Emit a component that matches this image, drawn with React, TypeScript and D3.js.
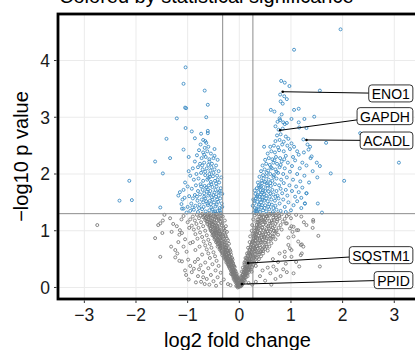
// Volcano plot: log2 fold change vs -log10 p, coloured by significance.
import { useEffect, useRef } from "react";
import * as d3 from "d3";

type Pt = [number, number];

// significant, down-regulated side
const sigLeft: Pt[] = [
  [-1.04,3.88],[-1.08,3.59],[-0.67,3.47],[-0.61,3.22],[-1.05,3.17],[-1.03,3.16],[-1.21,2.98],[-0.64,3.0],
  [-1.04,2.81],[-0.92,2.75],[-1.41,2.62],[-0.86,2.63],[-0.74,2.71],[-0.61,2.76],[-0.61,2.72],[-0.66,2.58],
  [-1.08,2.43],[-1.34,2.28],[-1.63,2.22],[-0.98,2.3],[-1.48,2.01],[-1.53,1.41],[-1.08,1.39],[-1.11,1.39],
  [-2.32,1.53],[-2.08,1.54],[-2.13,1.88],
  [-0.36,1.32],[-0.42,1.35],[-0.5,1.33],[-0.58,1.36],[-0.65,1.34],[-0.72,1.38],[-0.8,1.33],[-0.88,1.37],
  [-0.95,1.35],[-1.02,1.32],[-0.38,1.4],[-0.46,1.43],[-0.54,1.41],[-0.61,1.45],[-0.69,1.42],[-0.77,1.46],
  [-0.85,1.44],[-0.93,1.48],[-1.0,1.42],[-1.12,1.47],[-0.34,1.48],[-0.41,1.51],[-0.49,1.5],[-0.57,1.53],
  [-0.64,1.52],[-0.73,1.55],[-0.81,1.53],[-0.9,1.57],[-0.37,1.57],[-0.45,1.6],[-0.53,1.59],[-0.6,1.62],
  [-0.68,1.6],[-0.76,1.64],[-0.86,1.63],[-0.97,1.61],[-1.06,1.58],[-0.33,1.65],[-0.4,1.68],[-0.48,1.67],
  [-0.56,1.7],[-0.63,1.69],[-0.71,1.72],[-0.8,1.7],[-0.92,1.74],[-0.36,1.75],[-0.44,1.78],[-0.52,1.77],
  [-0.59,1.8],[-0.67,1.79],[-0.75,1.82],[-0.84,1.8],[-1.0,1.78],[-0.39,1.85],[-0.47,1.88],[-0.55,1.86],
  [-0.62,1.9],[-0.7,1.88],[-0.79,1.92],[-0.88,1.9],[-0.35,1.94],[-0.43,1.97],[-0.51,1.96],[-0.58,2.0],
  [-0.66,1.98],[-0.74,2.02],[-0.83,2.0],[-0.95,1.97],[-0.4,2.05],[-0.48,2.08],[-0.56,2.06],[-0.63,2.1],
  [-0.71,2.08],[-0.8,2.12],[-0.9,2.1],[-0.45,2.15],[-0.53,2.18],[-0.6,2.16],[-0.68,2.2],[-0.76,2.18],
  [-0.86,2.22],[-0.42,2.25],[-0.5,2.28],[-0.58,2.26],[-0.65,2.3],[-0.73,2.28],[-0.82,2.33],[-0.55,2.36],
  [-0.62,2.4],[-0.7,2.38],[-0.78,2.42],[-0.48,2.44],[-0.6,2.48],[-0.67,2.46],[-0.75,2.52],[-0.64,2.55],
  [-0.7,2.6],[-1.1,1.55],[-1.15,1.68],[-1.05,1.85],[-1.18,1.62],[-0.98,2.05],[-1.08,1.72],[-0.52,1.38],
  [-0.44,1.46],[-0.62,1.48],[-0.7,1.5],[-0.4,1.62],[-0.58,1.65],[-0.46,1.72],[-0.64,1.76],[-0.54,1.82],
  [-0.42,1.9],[-0.6,1.93],[-0.5,2.02],[-0.66,2.04],[-0.54,2.12],[-0.72,2.15],[-0.58,2.22],[-0.48,2.32],
  [-0.68,2.34],[-0.38,1.36],[-0.33,1.42],
  [-0.47,1.34],[-0.55,1.47],[-0.43,1.55],[-0.66,1.57],[-0.5,1.63],[-0.38,1.7],[-0.61,1.73],[-0.45,1.83],
  [-0.57,1.95],[-0.68,1.66],[-0.74,1.78],[-0.82,1.6],[-0.78,1.4],[-0.91,1.41],[-0.52,1.55],
];

// significant, up-regulated side
const sigRight: Pt[] = [
  [1.96,4.55],[1.06,4.19],[0.81,3.64],[0.88,3.61],[0.97,3.55],[1.56,3.47],[0.79,3.4],[0.87,3.37],
  [0.92,3.32],[0.8,3.28],[0.84,3.24],[0.61,3.13],[0.68,3.1],[0.82,3.05],[1.06,3.13],[1.15,3.15],
  [0.79,2.95],[0.74,2.92],[0.85,2.91],[0.92,2.9],[1.01,2.97],[1.26,2.97],[1.45,3.01],[1.15,2.91],
  [1.16,2.82],[1.3,2.81],[1.24,2.61],[1.68,2.55],[2.34,2.72],[3.09,2.2],[0.48,2.48],[1.01,2.54],
  [1.37,2.48],[1.34,2.43],[1.4,2.31],[1.5,2.2],[1.56,2.14],[1.77,2.01],[2.03,1.88],[1.51,1.94],
  [1.52,1.48],[1.6,1.32],[1.3,1.66],[1.27,1.48],
  [0.28,1.32],[0.34,1.35],[0.4,1.33],[0.46,1.36],[0.52,1.34],[0.58,1.38],[0.65,1.33],[0.72,1.37],
  [0.8,1.35],[0.9,1.33],[1.0,1.36],[0.3,1.4],[0.37,1.43],[0.43,1.41],[0.5,1.45],[0.56,1.42],
  [0.63,1.46],[0.7,1.44],[0.78,1.48],[0.88,1.42],[1.05,1.45],[0.29,1.48],[0.35,1.51],[0.42,1.5],
  [0.48,1.53],[0.55,1.52],[0.62,1.55],[0.69,1.53],[0.76,1.57],[0.85,1.55],[0.95,1.5],[1.12,1.52],
  [0.32,1.57],[0.39,1.6],[0.45,1.59],[0.52,1.62],[0.59,1.6],[0.66,1.64],[0.74,1.62],[0.83,1.66],
  [0.93,1.62],[1.08,1.6],[1.2,1.58],[0.31,1.65],[0.37,1.68],[0.44,1.67],[0.5,1.7],[0.57,1.69],
  [0.64,1.72],[0.72,1.7],[0.8,1.74],[0.9,1.72],[1.02,1.7],[1.15,1.68],[0.34,1.75],[0.41,1.78],
  [0.47,1.77],[0.54,1.8],[0.61,1.79],[0.69,1.82],[0.77,1.8],[0.86,1.84],[0.97,1.8],[1.1,1.78],
  [1.22,1.76],[0.36,1.85],[0.43,1.88],[0.5,1.86],[0.57,1.9],[0.64,1.88],[0.72,1.92],[0.81,1.9],
  [0.92,1.94],[1.04,1.9],[1.18,1.87],[0.39,1.95],[0.46,1.98],[0.53,1.96],[0.6,2.0],[0.67,1.98],
  [0.75,2.02],[0.85,2.0],[0.98,2.04],[1.12,2.0],[1.26,1.97],[0.42,2.05],[0.49,2.08],[0.56,2.06],
  [0.63,2.1],[0.7,2.08],[0.78,2.12],[0.88,2.1],[1.02,2.14],[1.17,2.1],[0.45,2.15],[0.52,2.18],
  [0.59,2.16],[0.66,2.2],[0.73,2.18],[0.82,2.22],[0.94,2.2],[1.08,2.24],[1.22,2.2],[0.5,2.25],
  [0.57,2.28],[0.64,2.26],[0.71,2.3],[0.79,2.28],[0.9,2.32],[1.04,2.3],[1.15,2.34],[0.55,2.36],
  [0.62,2.4],[0.69,2.38],[0.77,2.42],[0.86,2.4],[0.98,2.44],[1.12,2.4],[0.6,2.48],[0.67,2.5],
  [0.75,2.47],[0.83,2.52],[0.93,2.5],[1.06,2.48],[0.7,2.58],[0.78,2.6],[0.86,2.57],[0.95,2.62],
  [0.73,2.68],[0.8,2.7],[0.9,2.66],[0.76,2.78],[0.84,2.8],[0.7,2.84],[0.88,2.88],[0.78,2.98],
  [0.33,1.38],[0.38,1.46],[0.45,1.55],[0.35,1.62],[0.48,1.64],[0.41,1.72],[0.55,1.75],[0.38,1.8],
  [0.6,1.84],[0.47,1.92],[0.66,1.95],[0.53,2.02],[0.72,2.04],[0.61,2.12],[0.8,2.16],[0.68,2.24],
  [0.87,2.26],[1.3,1.66],[1.27,1.48],[1.35,1.85],[1.42,2.05],[1.3,2.15],[1.38,2.28],[1.25,2.38],
  [1.32,2.52],[1.2,1.4],[0.26,1.44],[0.27,1.55],
  [0.31,1.34],[0.37,1.37],[0.44,1.45],[0.29,1.53],[0.4,1.55],[0.34,1.6],[0.42,1.64],[0.3,1.71],
  [0.46,1.71],[0.39,1.76],[0.52,1.57],[0.58,1.47],[0.6,1.66],[0.53,1.84],[0.44,1.84],[0.49,1.4],
  [0.66,1.4],[0.7,1.6],
];

// not significant, negative fold change
const nsLeft: Pt[] = [
  [-0.02,0.02],[-0.04,0.05],[-0.01,0.08],[-0.06,0.03],[-0.03,0.11],[-0.07,0.09],[-0.05,0.14],[-0.09,0.12],
  [-0.02,0.16],[-0.08,0.18],[-0.11,0.15],[-0.06,0.21],[-0.12,0.22],[-0.09,0.25],[-0.14,0.27],[-0.07,0.28],
  [-0.16,0.24],[-0.11,0.31],[-0.18,0.33],[-0.13,0.35],[-0.09,0.36],[-0.2,0.37],[-0.15,0.4],[-0.22,0.41],
  [-0.12,0.43],[-0.18,0.45],[-0.25,0.44],[-0.16,0.48],[-0.21,0.5],[-0.27,0.49],[-0.14,0.52],[-0.24,0.54],
  [-0.3,0.53],[-0.19,0.56],[-0.26,0.58],[-0.33,0.57],[-0.22,0.61],[-0.29,0.62],[-0.17,0.63],[-0.35,0.64],
  [-0.25,0.66],[-0.31,0.68],[-0.38,0.67],[-0.2,0.69],[-0.28,0.71],[-0.36,0.73],[-0.24,0.74],[-0.42,0.72],
  [-0.32,0.76],[-0.39,0.78],[-0.27,0.79],[-0.45,0.8],[-0.34,0.82],[-0.22,0.83],[-0.41,0.84],[-0.3,0.86],
  [-0.48,0.85],[-0.37,0.88],[-0.26,0.9],[-0.44,0.91],[-0.33,0.93],[-0.52,0.92],[-0.4,0.95],[-0.29,0.97],
  [-0.47,0.98],[-0.36,0.99],[-0.55,1.0],[-0.43,1.02],[-0.31,1.03],[-0.5,1.05],[-0.38,1.06],[-0.58,1.07],
  [-0.46,1.09],[-0.34,1.1],[-0.53,1.11],[-0.41,1.13],[-0.62,1.12],[-0.49,1.15],[-0.37,1.16],[-0.56,1.18],
  [-0.44,1.19],[-0.66,1.19],[-0.52,1.21],[-0.4,1.22],[-0.6,1.24],[-0.47,1.25],[-0.7,1.24],[-0.35,1.27],
  [-0.55,1.28],[-0.64,1.29],[-0.43,1.29],[-0.75,1.27],[-0.5,1.3],[-0.32,1.25],[-0.28,1.18],[-0.26,1.08],
  [-0.24,0.98],[-0.01,0.01],[0.0,0.03],[-0.03,0.0],[-0.05,0.07],[-0.1,0.19],[-0.04,0.19],[-0.13,0.29],
  [-0.19,0.42],[-0.23,0.47],[-0.28,0.6],[-0.33,0.7],[-0.35,0.78],[-0.4,0.89],[-0.45,0.96],[-0.48,1.08],
  [-0.58,1.15],[-0.6,1.2],[-0.68,1.26],
  [-0.82,1.28],[-0.9,1.25],[-0.78,1.22],[-0.86,1.18],[-0.95,1.2],[-0.74,1.15],[-0.83,1.12],[-0.92,1.09],
  [-0.7,1.08],[-0.79,1.05],[-0.88,1.02],[-0.66,1.0],[-0.76,0.97],[-0.85,0.94],[-0.63,0.92],[-0.72,0.89],
  [-0.81,0.86],[-0.6,0.84],[-0.69,0.81],[-0.9,0.8],[-0.57,0.77],[-0.66,0.74],[-0.77,0.72],[-0.54,0.7],
  [-0.63,0.67],[-0.85,0.66],[-0.5,0.62],[-0.6,0.6],[-0.72,0.58],[-0.47,0.55],[-0.57,0.52],[-0.8,0.5],
  [-0.44,0.47],[-0.66,0.44],[-0.52,0.41],[-0.75,0.39],[-0.4,0.38],[-0.6,0.34],[-0.88,0.33],[-0.46,0.3],
  [-0.7,0.27],[-0.36,0.26],[-0.55,0.22],[-0.8,0.2],[-0.42,0.18],[-0.63,0.15],[-0.3,0.14],[-0.5,0.11],
  [-0.74,0.1],[-0.35,0.08],[-0.22,0.06],[-0.58,0.05],[-0.45,0.03],[-0.17,0.04],
  [-1.45,1.28],[-1.53,1.13],[-1.48,1.18],[-1.57,1.1],[-1.34,1.22],[-1.28,1.12],[-1.21,1.08],[-1.63,0.87],
  [-1.49,0.96],[-1.31,0.98],[-1.15,1.01],[-1.16,0.93],[-1.11,0.96],[-1.32,0.72],[-1.24,0.66],[-1.2,0.6],
  [-1.53,0.54],[-1.08,0.72],[-1.02,0.63],[-0.99,0.49],[-1.24,0.53],[-1.16,0.47],[-1.11,0.46],[-1.05,0.3],
  [-1.03,0.22],[-0.95,0.38],[-0.86,0.45],[-0.92,0.27],[-0.78,0.32],[-0.98,0.14],[-0.84,0.09],[-0.7,0.18],
  [-0.67,0.06],[-1.08,1.26],[-1.0,1.15],[-1.12,1.2],[-0.97,1.05],[-1.05,0.85],[-0.95,0.78],[-1.18,0.8],
  [-2.75,1.1],
];

// the dense left arm of the V
const coreLeft: Pt[] = [
  [-0.02,0.06],[-0.05,0.1],[-0.08,0.15],[-0.1,0.22],[-0.13,0.25],[-0.15,0.31],[-0.17,0.36],[-0.2,0.4],
  [-0.22,0.45],[-0.24,0.5],[-0.27,0.55],[-0.29,0.58],[-0.31,0.63],[-0.34,0.66],[-0.36,0.7],[-0.38,0.75],
  [-0.41,0.79],[-0.43,0.83],[-0.46,0.87],[-0.49,0.9],[-0.5,0.95],[-0.53,0.98],[-0.56,1.03],[-0.58,1.1],
  [-0.63,1.16],[-0.65,1.22],[-0.57,1.26],[-0.45,1.23],[-0.39,1.19],[-0.42,1.07],[-0.39,1.0],[-0.35,0.95],
  [-0.31,0.9],[-0.29,0.8],[-0.25,0.72],[-0.23,0.64],[-0.2,0.59],[-0.17,0.52],[-0.14,0.45],[-0.12,0.38],
  [-0.1,0.3],[-0.07,0.24],[-0.04,0.15],[-0.02,0.12],[-0.03,0.04],[-0.06,0.16],[-0.11,0.27],[-0.16,0.39],
  [-0.21,0.47],[-0.26,0.52],[-0.3,0.66],[-0.35,0.74],[-0.4,0.82],[-0.44,0.94],[-0.47,1.01],[-0.52,1.07],
  [-0.54,1.14],[-0.61,1.28],[-0.72,1.3],[-0.37,1.3],
  [-0.01,0.04],[-0.04,0.02],[-0.03,0.09],[-0.06,0.12],[-0.01,0.13],[-0.04,0.18],[-0.09,0.17],[-0.07,0.2],
  [-0.12,0.19],[-0.05,0.24],[-0.1,0.26],[-0.14,0.23],[-0.08,0.3],[-0.12,0.32],[-0.16,0.29],[-0.1,0.38],
  [-0.14,0.36],[-0.19,0.35],[-0.13,0.41],[-0.17,0.43],[-0.21,0.39],[-0.15,0.46],[-0.19,0.48],[-0.24,0.46],
  [-0.17,0.5],[-0.22,0.52],[-0.27,0.51],[-0.19,0.55],[-0.24,0.57],[-0.29,0.55],[-0.21,0.6],[-0.26,0.62],
  [-0.32,0.6],[-0.23,0.66],[-0.28,0.67],[-0.34,0.62],[-0.26,0.7],[-0.31,0.72],[-0.37,0.69],[-0.28,0.75],
  [-0.33,0.78],[-0.39,0.73],[-0.3,0.81],[-0.36,0.83],[-0.42,0.77],[-0.32,0.85],[-0.38,0.87],[-0.44,0.82],
  [-0.35,0.9],[-0.41,0.91],[-0.47,0.88],[-0.37,0.94],[-0.43,0.97],[-0.5,0.93],[-0.39,0.99],[-0.46,1.0],
  [-0.52,0.97],[-0.41,1.04],[-0.48,1.05],[-0.55,1.04],[-0.44,1.1],[-0.51,1.12],[-0.57,1.09],[-0.46,1.14],
  [-0.53,1.17],[-0.61,1.16],[-0.48,1.2],[-0.55,1.23],[-0.63,1.21],[-0.5,1.26],[-0.58,1.3],[-0.67,1.28],
  [-0.45,1.3],[-0.42,1.25],[-0.36,1.21],[-0.33,1.13],[-0.3,1.05],[-0.28,1.0],[-0.27,0.92],[-0.24,0.86],
  [-0.2,0.77],[-0.18,0.66],[-0.16,0.58],[-0.13,0.49],
];

// not significant, positive fold change
const nsRight: Pt[] = [
  [0.01,0.02],[0.03,0.05],[0.02,0.09],[0.05,0.04],[0.06,0.1],[0.04,0.13],[0.08,0.15],[0.03,0.17],
  [0.09,0.2],[0.06,0.22],[0.12,0.24],[0.08,0.27],[0.14,0.3],[0.1,0.32],[0.17,0.33],[0.07,0.35],
  [0.13,0.37],[0.2,0.38],[0.1,0.41],[0.16,0.43],[0.23,0.44],[0.12,0.47],[0.19,0.49],[0.27,0.48],
  [0.14,0.52],[0.22,0.54],[0.31,0.53],[0.16,0.57],[0.25,0.59],[0.35,0.58],[0.18,0.62],[0.28,0.63],
  [0.4,0.62],[0.2,0.67],[0.31,0.68],[0.44,0.67],[0.22,0.72],[0.34,0.73],[0.48,0.71],[0.24,0.77],
  [0.37,0.78],[0.52,0.76],[0.26,0.82],[0.4,0.83],[0.56,0.81],[0.28,0.87],[0.43,0.88],[0.6,0.86],
  [0.3,0.92],[0.46,0.93],[0.64,0.9],[0.32,0.97],[0.5,0.98],[0.68,0.95],[0.34,1.02],[0.53,1.03],
  [0.72,1.0],[0.36,1.07],[0.56,1.08],[0.76,1.05],[0.38,1.12],[0.6,1.13],[0.8,1.1],[0.4,1.17],
  [0.63,1.18],[0.84,1.16],[0.42,1.22],[0.66,1.23],[0.88,1.21],[0.3,1.27],[0.5,1.28],[0.7,1.27],
  [0.92,1.26],[0.27,1.2],[0.25,1.1],[0.24,1.0],[0.21,0.9],[0.2,0.8],[0.17,0.7],[0.15,0.6],
  [0.12,0.52],[0.1,0.44],[0.05,0.28],[0.04,0.2],[0.11,0.12],[0.16,0.2],[0.22,0.31],[0.27,0.4],
  [0.33,0.45],[0.38,0.5],[0.42,0.55],[0.46,0.6],[0.3,0.7],[0.55,0.65],[0.58,0.72],[0.45,0.8],
  [0.62,0.78],[0.35,0.88],[0.55,0.9],[0.7,0.85],[0.4,0.96],[0.6,0.98],[0.75,0.93],[0.45,1.05],
  [0.65,1.05],[0.82,1.02],[0.5,1.15],[0.7,1.12],[0.9,1.13],[0.35,1.2],[0.55,1.22],[0.78,1.22],
  [0.45,1.28],[0.62,1.3],[0.82,1.29],[0.38,1.29],[0.33,1.15],[0.29,1.05],[0.26,0.95],[0.48,0.88],
  [0.52,0.83],[0.36,0.62],[0.4,0.7],[0.28,0.55],[0.2,0.45],[0.32,0.38],[0.24,0.28],[0.18,0.26],
  [0.13,0.18],[0.07,0.07],
  [1.43,1.19],[1.53,0.91],[1.42,1.05],[1.14,0.81],[1.21,0.76],[1.24,0.72],[1.16,0.37],[1.56,0.37],
  [1.19,0.57],[0.98,1.04],[1.05,1.07],[1.11,1.01],[1.03,0.98],[0.95,0.75],[0.98,0.69],[0.88,0.63],
  [1.01,0.54],[0.92,1.13],[1.01,1.08],[1.14,1.01],[1.43,1.16],[1.19,0.75],[1.21,0.6],[1.01,0.66],
  [0.88,0.54],[0.85,0.32],[0.72,0.31],[0.66,0.37],[0.75,0.45],[0.8,0.2],[0.6,0.25],[0.7,0.15],
  [0.5,0.12],[0.55,0.35],[0.9,0.42],[1.05,0.25],[0.4,0.2],[0.32,0.1],[0.45,0.3],[0.65,0.5],
  [0.78,0.6],[0.95,0.88],[1.05,0.9],[1.25,1.15],[1.2,1.25],[1.0,1.22],[1.1,1.28],[0.96,1.29],
  [1.3,1.1],[1.1,0.45],[0.92,0.27],[0.62,0.05],[0.25,0.05],[0.18,0.08],
];

// the dense right arm of the V
const coreRight: Pt[] = [
  [0.02,0.04],[0.04,0.08],[0.06,0.14],[0.08,0.19],[0.1,0.24],[0.11,0.29],[0.13,0.33],[0.15,0.38],
  [0.17,0.42],[0.18,0.47],[0.2,0.52],[0.22,0.58],[0.23,0.63],[0.25,0.68],[0.27,0.74],[0.28,0.79],
  [0.3,0.83],[0.32,0.89],[0.33,0.94],[0.35,0.99],[0.37,1.04],[0.39,1.09],[0.41,1.14],[0.43,1.19],
  [0.47,1.24],[0.53,1.26],[0.58,1.27],[0.65,1.28],[0.48,1.18],[0.52,1.1],[0.47,1.0],[0.43,0.92],
  [0.39,0.86],[0.35,0.79],[0.32,0.72],[0.3,0.64],[0.26,0.57],[0.24,0.5],[0.21,0.42],[0.18,0.35],
  [0.15,0.28],[0.12,0.21],[0.09,0.13],[0.05,0.11],[0.14,0.24],[0.19,0.32],[0.25,0.36],[0.29,0.44],
  [0.34,0.52],[0.38,0.58],[0.42,0.64],[0.45,0.73],[0.5,0.79],[0.53,0.87],[0.57,0.95],[0.62,1.02],
  [0.68,1.08],[0.73,1.16],[0.75,1.3],[0.58,1.17],
  [0.01,0.05],[0.03,0.02],[0.03,0.1],[0.06,0.07],[0.05,0.16],[0.08,0.12],[0.07,0.22],[0.1,0.18],
  [0.09,0.27],[0.12,0.27],[0.15,0.25],[0.11,0.34],[0.14,0.35],[0.18,0.31],[0.12,0.4],[0.16,0.39],
  [0.2,0.35],[0.14,0.45],[0.18,0.44],[0.22,0.41],[0.15,0.5],[0.2,0.5],[0.25,0.46],[0.17,0.55],
  [0.22,0.56],[0.28,0.52],[0.19,0.6],[0.24,0.61],[0.3,0.58],[0.2,0.65],[0.26,0.66],[0.33,0.64],
  [0.22,0.7],[0.28,0.7],[0.36,0.69],[0.23,0.75],[0.3,0.77],[0.39,0.74],[0.25,0.8],[0.32,0.82],
  [0.42,0.8],[0.27,0.85],[0.35,0.86],[0.45,0.84],[0.28,0.9],[0.37,0.91],[0.48,0.9],[0.3,0.95],
  [0.39,0.96],[0.51,0.94],[0.31,1.0],[0.41,1.01],[0.54,0.99],[0.33,1.05],[0.44,1.06],[0.57,1.04],
  [0.34,1.1],[0.46,1.11],[0.6,1.09],[0.36,1.15],[0.48,1.16],[0.63,1.14],[0.37,1.2],[0.5,1.21],
  [0.67,1.19],[0.39,1.25],[0.53,1.25],[0.71,1.23],[0.33,1.3],[0.42,1.28],[0.57,1.3],[0.68,1.3],
  [0.77,1.26],[0.74,1.2],[0.7,0.98],[0.66,0.9],[0.62,0.85],[0.6,0.92],[0.67,1.0],[0.53,0.72],
  [0.5,0.68],[0.46,0.64],
];

// labelled genes
const labelGenes = ["ENO1", "GAPDH", "ACADL", "SQSTM1", "PPID"];
const labelFC = [0.84, 0.79, 1.3, 0.17, 0.05];
const labelP = [3.45, 2.77, 2.6, 0.43, 0.06];
// where the repelled boxes ended up (data units)
const boxRight = 3.36;
const boxP = [3.42, 3.02, 2.59, 0.57, 0.13];

const xTicks = [-3, -2, -1, 0, 1, 2, 3];
const yTicks = [0, 1, 2, 3, 4];
const pCut = -Math.log10(0.05);
const fcCuts = [Math.log2(0.8), Math.log2(1.2)];

const FONT = "'Liberation Sans', Arial, Helvetica, sans-serif";
const BLUE = "#3d8cc4";
const GREY = "#7a7a7a";

export default function App() {
  const svgRef = useRef<SVGSVGElement | null>(null);

  useEffect(() => {
    const svg = d3.select(svgRef.current);
    svg.selectAll("*").remove();

    const W = 415;
    const H = 350;
    const left = 58, right = 417, top = 14, bottom = 299;

    svg.attr("width", W).attr("height", H).attr("viewBox", `0 0 ${W} ${H}`);

    const x = d3.scaleLinear().domain([-3.51, 3.44]).range([left, right]);
    const y = d3.scaleLinear().domain([-0.203, 4.82]).range([bottom, top]);

    svg.append("rect").attr("width", W).attr("height", H).attr("fill", "#fff");

    // title (cut off at the top of the frame, as in the source)
    svg.append("text")
      .attr("x", 59).attr("y", 3)
      .attr("font-family", FONT).attr("font-size", 20).attr("fill", "#000")
      .text("Colored by statistical significance");

    // grid
    const grid = svg.append("g").attr("stroke", "#ebebeb").attr("stroke-width", 1);
    grid.selectAll("line.v").data(xTicks).join("line")
      .attr("x1", (d) => x(d)).attr("x2", (d) => x(d))
      .attr("y1", top).attr("y2", bottom);
    grid.selectAll("line.h").data(yTicks).join("line")
      .attr("y1", (d) => y(d)).attr("y2", (d) => y(d))
      .attr("x1", left).attr("x2", right);

    // points
    const all = [...nsLeft, ...coreLeft, ...nsRight, ...coreRight, ...sigLeft, ...sigRight];
    svg.append("g")
      .selectAll("circle")
      .data(all)
      .join("circle")
      .attr("cx", (d) => x(d[0]))
      .attr("cy", (d) => y(d[1]))
      .attr("r", 1.5)
      .attr("fill", "none")
      .attr("stroke", (d) => (d[1] > pCut ? BLUE : GREY))
      .attr("stroke-width", 0.9);

    // thresholds
    const ref = svg.append("g").attr("stroke", "#8c8c8c").attr("stroke-width", 1);
    ref.append("line")
      .attr("x1", left).attr("x2", right)
      .attr("y1", y(pCut)).attr("y2", y(pCut));
    ref.selectAll("line.fc").data(fcCuts).join("line")
      .attr("x1", (d) => x(d)).attr("x2", (d) => x(d))
      .attr("y1", top).attr("y2", bottom);

    // labels with segments
    const lab = svg.append("g");
    labelGenes.forEach((g, i) => {
      const px = x(labelFC[i]);
      const py = y(labelP[i]);
      const t = lab.append("text")
        .attr("font-family", FONT).attr("font-size", 14)
        .attr("text-anchor", "end").attr("dominant-baseline", "central")
        .attr("x", x(boxRight) - 3).attr("y", y(boxP[i]) + 0.5)
        .text(g);
      const bb = (t.node() as SVGTextElement).getBBox();
      const bx0 = bb.x - 3, bx1 = x(boxRight);
      const by0 = y(boxP[i]) - 8.5, by1 = y(boxP[i]) + 8.5;
      const cx = (bx0 + bx1) / 2, cy = (by0 + by1) / 2;
      // segment aimed at the box centre, stopped at its left edge
      const k = (bx0 - px) / (cx - px);
      lab.insert("line", "text")
        .attr("x1", px).attr("y1", py)
        .attr("x2", px + (cx - px) * k).attr("y2", py + (cy - py) * k)
        .attr("stroke", "#000").attr("stroke-width", 1);
      lab.insert("circle", "text")
        .attr("cx", px).attr("cy", py).attr("r", 1.3).attr("fill", "#000");
      lab.insert("rect", "text")
        .attr("x", bx0).attr("y", by0)
        .attr("width", bx1 - bx0).attr("height", by1 - by0)
        .attr("rx", 3).attr("fill", "#fff")
        .attr("stroke", "#000").attr("stroke-width", 0.8);
    });

    // panel border (right side falls outside the frame)
    svg.append("rect")
      .attr("x", left).attr("y", top)
      .attr("width", right - left).attr("height", bottom - top)
      .attr("fill", "none").attr("stroke", "#000").attr("stroke-width", 2.8);

    // ticks
    const tk = svg.append("g").attr("stroke", "#333").attr("stroke-width", 1);
    tk.selectAll("line.x").data(xTicks).join("line")
      .attr("x1", (d) => x(d)).attr("x2", (d) => x(d))
      .attr("y1", bottom + 1.4).attr("y2", bottom + 4);
    tk.selectAll("line.y").data(yTicks).join("line")
      .attr("y1", (d) => y(d)).attr("y2", (d) => y(d))
      .attr("x1", left - 1.4).attr("x2", left - 4);

    const fmt = (v: number) => (v < 0 ? `\u2212${Math.abs(v)}` : `${v}`);
    svg.append("g").selectAll("text").data(xTicks).join("text")
      .attr("x", (d) => x(d)).attr("y", 320.5)
      .attr("text-anchor", "middle")
      .attr("font-family", FONT).attr("font-size", 17.5).attr("fill", "#1a1a1a")
      .text(fmt);
    svg.append("g").selectAll("text").data(yTicks).join("text")
      .attr("x", 50).attr("y", (d) => y(d))
      .attr("dy", "0.36em")
      .attr("text-anchor", "end")
      .attr("font-family", FONT).attr("font-size", 17.5).attr("fill", "#1a1a1a")
      .text(fmt);

    // axis titles
    svg.append("text")
      .attr("x", (left + right) / 2).attr("y", 347)
      .attr("text-anchor", "middle")
      .attr("font-family", FONT).attr("font-size", 20).attr("fill", "#000")
      .text("log2 fold change");
    svg.append("text")
      .attr("transform", `translate(28,${(top + bottom) / 2}) rotate(-90)`)
      .attr("text-anchor", "middle")
      .attr("font-family", FONT).attr("font-size", 20).attr("fill", "#000")
      .text("\u2212log10 p value");
  }, []);

  return (
    <svg
      ref={svgRef}
      style={{ position: "absolute", left: 0, top: 0, display: "block" }}
    />
  );
}
